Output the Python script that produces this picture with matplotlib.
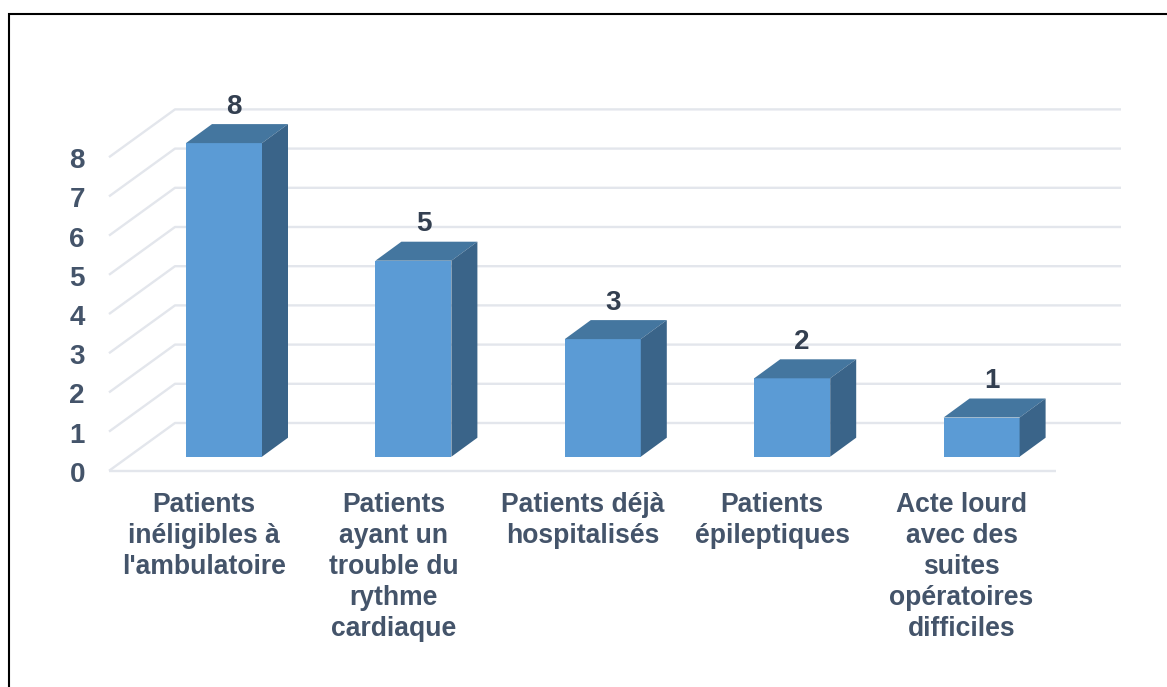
import matplotlib
matplotlib.use('Agg')
import matplotlib.pyplot as plt
from matplotlib.patches import Polygon, Rectangle

plt.rcParams['font.family'] = ['Liberation Sans', 'DejaVu Sans']

categories = ["Patients\ninéligibles à\nl'ambulatoire",
              "Patients\nayant un\ntrouble du\nrythme\ncardiaque",
              "Patients déjà\nhospitalisés",
              "Patients\népileptiques",
              "Acte lourd\navec des\nsuites\nopératoires\ndifficiles"]
values = [8, 5, 3, 2, 1]
yticks = [0, 1, 2, 3, 4, 5, 6, 7, 8]

W, H = 1167, 687
px_x = 189.4   # pixels per category
px_y = 39.2    # pixels per value
x0 = 224       # pixel of first bar centre
y0 = 456.7     # pixel of value 0 on the bar front

fig = plt.figure(figsize=(W / 100, H / 100), dpi=100)
ax = fig.add_axes([0, 0, 1, 1])
ax.set_xlim(-x0 / px_x, (W - x0) / px_x)
ax.set_ylim((y0 - H) / px_y, y0 / px_y)
ax.axis('off')

# depth of the 3d look, in data units
dx = 26 / px_x
dy = 19 / px_y
bar_w = 76 / px_x

grid = '#e3e6ec'
dark = '#44546a'
label = '#333f50'

# frame round the picture, only top and left are in view
fig.add_artist(Rectangle((8.5 / W, -0.1), 2, 1.1 - 14.3 / H, transform=fig.transFigure,
                         fill=False, ec='black', lw=1.5))

# wall lines
left = (109 - x0) / px_x
corner = (175 - x0) / px_x
right = (1121 - x0) / px_x
front = (1056 - x0) / px_x
for v in yticks:
    ax.plot([left, corner, right], [v - 0.36, v + 0.86, v + 0.86], color=grid, lw=1.7,
            solid_capstyle='butt', zorder=1)
ax.plot([left, front], [-0.36, -0.36], color=grid, lw=1.7, solid_capstyle='butt', zorder=1)

for v in yticks:
    ax.annotate(str(v), (0, v), xytext=(85 - x0, -25), textcoords='offset pixels', ha='right',
                va='baseline', fontsize=20, fontweight='bold', color=dark)

for i, (c, v) in enumerate(zip(categories, values)):
    l = i - bar_w / 2
    r = i + bar_w / 2
    ax.bar(i, v, width=bar_w, color='#5b9bd5', zorder=3)
    ax.add_patch(Polygon([(l, v), (l + dx, v + dy), (r + dx, v + dy), (r, v)],
                         fc='#44769f', ec='none', zorder=3))
    ax.add_patch(Polygon([(r, v), (r + dx, v + dy), (r + dx, dy), (r, 0)],
                         fc='#3a6489', ec='none', zorder=3))
    ax.annotate(str(v), (i, v), xytext=(10, 29.5), textcoords='offset pixels', ha='center',
                va='baseline', fontsize=20, fontweight='bold', color=label, zorder=4)
    ax.annotate(c, (i, 0), xytext=(-20, -35), textcoords='offset pixels', ha='center', va='top',
                fontsize=19.1, fontweight='bold', color=dark, linespacing=1.25, zorder=4)

fig.savefig('out.png', dpi=100)
